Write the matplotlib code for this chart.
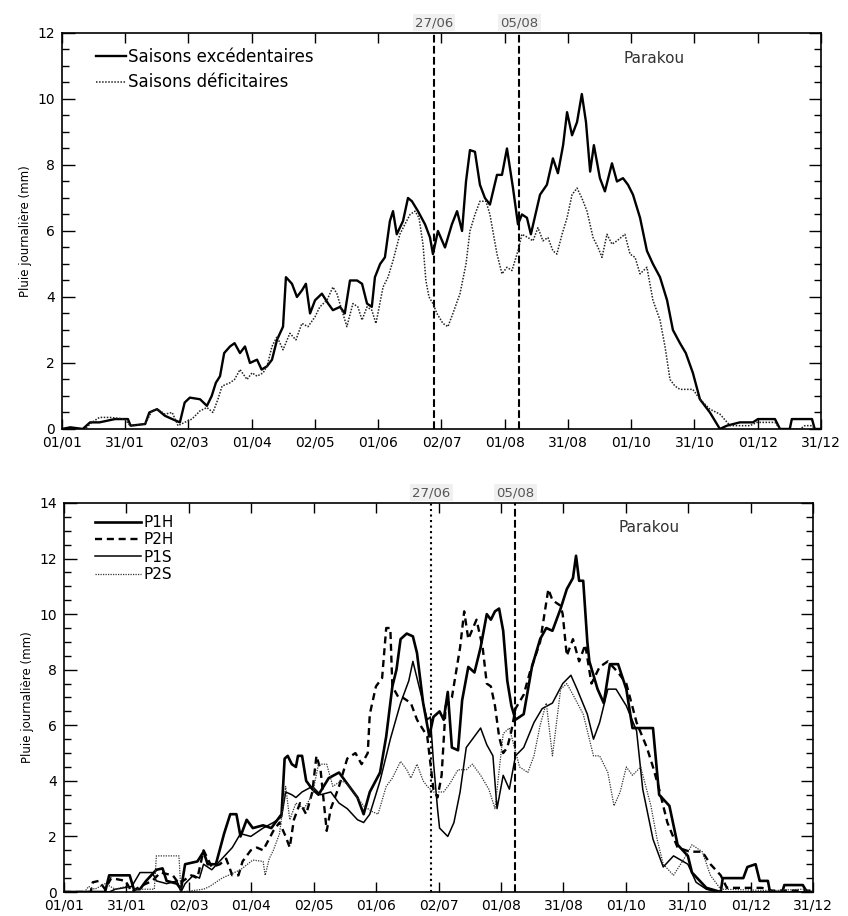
import numpy as np
import matplotlib
matplotlib.use("Agg")
import matplotlib.pyplot as plt
from matplotlib.ticker import MultipleLocator

# ── Data (day of year from 01/01) ────────────────────────────────────────────

MONTH_LABELS = ["01/01", "31/01", "02/03", "01/04", "02/05", "01/06", "02/07",
                "01/08", "31/08", "01/10", "31/10", "01/12", "31/12"]
MARK_LABELS = ["27/06", "05/08"]
MARK_DAYS = [179, 220]

# top panel: wet seasons (excédentaires) / dry seasons (déficitaires)
EXC_DAY = [0, 4, 10, 13.5, 18, 25.5, 31.7, 33, 40, 42, 45.7, 49.5, 53, 56.7, 59, 61.5, 66.4, 69.7, 72, 74,
           76, 78, 80.8, 83, 85.6, 88, 90.4, 93.8, 96, 98.6, 101, 103.4, 106.3, 107.7, 110.6, 113, 115.4,
           117.3, 119.3, 121.7, 125, 128, 130.3, 133.7, 136, 138.5, 141.9, 144.3, 146.7, 149, 150.5, 153,
           155.3, 157.7, 159.2, 161, 164, 166.4, 168.3, 171.2, 174.6, 177, 178.4, 180.8, 184.2, 187.5, 190,
           192.4, 194.3, 196.2, 198.6, 201, 203.4, 205.8, 209.2, 211.6, 214, 216.9, 219.3, 221.2, 223.6,
           225.5, 229.9, 233.2, 236.1, 238.5, 241, 242.9, 245.3, 247.7, 250, 252, 254, 255.8, 258.7, 261.1,
           264.5, 266.9, 269.8, 272.2, 274.6, 278, 281.3, 284.2, 287.6, 291, 293.8, 297.2, 300, 303.4, 306.8,
           311.6, 316.4, 319.8, 326, 332.3, 334.7, 342.9, 345.3, 350, 351, 360.7, 362, 365]
EXC_VAL = [0, 0.05, 0, 0.2, 0.2, 0.3, 0.3, 0.1, 0.15, 0.5, 0.6, 0.4, 0.3, 0.2, 0.8, 0.95, 0.9, 0.7, 1.0, 1.4,
           1.6, 2.3, 2.5, 2.6, 2.3, 2.5, 2.0, 2.1, 1.8, 1.9, 2.1, 2.7, 3.1, 4.6, 4.4, 4.0, 4.2,
           4.4, 3.5, 3.9, 4.1, 3.8, 3.6, 3.7, 3.5, 4.5, 4.5, 4.4, 3.8, 3.7, 4.6, 5.0,
           5.2, 6.3, 6.6, 5.9, 6.3, 7.0, 6.9, 6.6, 6.2, 5.8, 5.3, 6.0, 5.5, 6.2, 6.6,
           6.0, 7.5, 8.45, 8.4, 7.4, 7.0, 6.8, 7.7, 7.7, 8.5, 7.3, 6.2, 6.5, 6.4,
           5.9, 7.1, 7.4, 8.2, 7.75, 8.6, 9.6, 8.9, 9.3, 10.15, 9.3, 7.8, 8.6, 7.6, 7.2,
           8.05, 7.5, 7.6, 7.4, 7.1, 6.4, 5.4, 5.0, 4.6, 3.9, 3.0, 2.6, 2.3, 1.7, 0.9,
           0.5, 0.0, 0.1, 0.2, 0.2, 0.3, 0.3, 0.0, 0.0, 0.3, 0.3, 0.0, 0.0]

DEF_DAY = [0, 11, 14.4, 18, 23, 30.3, 32.7, 40, 43.3, 46, 49.5, 53, 55.8, 59, 62.5, 66.4, 69.7, 72.6, 75, 77,
           80.8, 83, 85.6, 89, 91.4, 93.8, 96.7, 98.6, 101, 103.4, 106.3, 109.6, 112.5, 115.4, 118.3, 121.7,
           124, 127.4, 130.3, 132.2, 134.6, 137, 139.9, 142.3, 144.3, 146.7, 149, 151, 154.4, 156.8, 159.2,
           162.5, 164.9, 167.4, 169.8, 171.7, 173.6, 175, 176.5, 178.4, 180.3, 183.2, 185.6, 188, 191.4,
           194.3, 196.2, 198.6, 201, 203.9, 205.8, 209.2, 211.6, 214, 216.4, 219.3, 221.2, 224.1, 226.5,
           228.9, 231.3, 233.7, 236.1, 238, 240.5, 242.9, 245.3, 247.7, 250, 252.5, 255.4, 257.8, 259.7,
           262.1, 264.5, 266.9, 270.7, 273.2, 275.6, 278, 281.3, 284.2, 287.6, 290, 292.4, 294.8, 297.2,
           303.4, 306.8, 311.6, 316.4, 321.3, 330.9, 334.2, 342.9, 345.3, 355, 357.3, 360.7, 362, 365]
DEF_VAL = [0, 0, 0.2, 0.35, 0.35, 0.3, 0.1, 0.15, 0.55, 0.6, 0.45, 0.5, 0.1, 0.2, 0.3, 0.55, 0.65, 0.5, 0.9, 1.3,
           1.4, 1.5, 1.8, 1.5, 1.7, 1.6, 1.7, 1.9, 2.5, 2.8, 2.4, 2.9, 2.7, 3.2, 3.1, 3.4,
           3.7, 3.9, 4.3, 4.1, 3.6, 3.1, 3.8, 3.7, 3.3, 3.7, 3.6, 3.2, 4.3, 4.6, 5.1,
           5.9, 6.2, 6.5, 6.6, 6.4, 5.6, 4.5, 4.0, 3.8, 3.5, 3.2, 3.1, 3.5, 4.1,
           5.0, 6.0, 6.5, 6.9, 6.9, 6.5, 5.3, 4.7, 4.9, 4.8, 5.4, 5.9, 5.8, 5.7,
           6.1, 5.7, 5.8, 5.4, 5.3, 5.9, 6.4, 7.1, 7.3, 7.0, 6.6, 5.8, 5.5, 5.2,
           5.9, 5.6, 5.7, 5.9, 5.3, 5.2, 4.7, 4.9, 3.9, 3.3, 2.5, 1.5, 1.3, 1.2,
           1.2, 0.9, 0.6, 0.45, 0.1, 0.1, 0.2, 0.2, 0.0, 0.0, 0.1, 0.1, 0.0, 0.0]

# bottom panel: P1H, P2H, P1S, P2S
P1H_DAY = [0, 20, 22, 32, 34, 37, 40, 45, 48, 50, 55, 57, 59, 65, 68, 70, 74, 78, 81, 84, 86, 89, 92, 97,
           101, 104, 106, 107.5, 109, 111, 113, 114, 116, 118, 121, 124, 129, 134, 138, 143, 146, 149, 154,
           157, 160, 162, 164, 167, 170, 172, 175, 178, 180, 183, 185, 187, 189, 192, 194, 197, 200, 203,
           206, 208, 210, 212, 214, 216, 218, 220, 224, 228, 232, 235, 238, 242, 245, 248, 249.5, 251, 253,
           255, 256, 260, 263, 266, 270, 274, 277, 282, 287, 290, 295, 299, 304, 306, 313, 320, 321, 331,
           333, 337, 339, 343, 344, 350, 351, 360, 362, 365]
P1H_VAL = [0, 0, 0.6, 0.6, 0.1, 0.1, 0.4, 0.8, 0.85, 0.4, 0.3, 0.1, 1.0, 1.1, 1.45, 1.0, 1.0, 2.1, 2.8, 2.8, 2.0, 2.6, 2.3, 2.4,
           2.3, 2.6, 2.8, 4.8, 4.9, 4.6, 4.5, 4.9, 4.9, 4.0, 3.7, 3.5, 4.1, 4.3, 3.9, 3.4, 2.8, 3.6, 4.3,
           5.6, 7.4, 8.0, 9.1, 9.3, 9.2, 8.6, 6.8, 5.6, 6.3, 6.5, 6.2, 7.2, 5.2, 5.1, 6.9, 8.1, 7.9, 8.8,
           10.0, 9.8, 10.1, 10.2, 9.4, 7.6, 6.7, 6.2, 6.4, 8.1, 9.1, 9.5, 9.4, 10.2, 10.9, 11.3, 12.1, 11.2, 11.2,
           9.0, 8.3, 7.3, 6.8, 8.2, 8.2, 7.3, 5.9, 5.9, 5.9, 3.5, 3.1, 1.7, 1.3, 0.7, 0.15, 0.0, 0.5, 0.5,
           0.9, 1.0, 0.4, 0.4, 0.0, 0.0, 0.25, 0.25, 0.0, 0.0]

P2H_DAY = [0, 13, 14, 17, 20, 23, 30, 33, 37, 43, 47, 53, 56, 62, 65, 68, 72, 76, 79, 82, 85, 87, 91, 94, 97,
           102, 105, 108, 110, 112, 115, 118, 121, 123, 125, 128, 130, 134, 138, 142, 145, 148, 149, 152,
           155, 157, 159, 160, 163, 165, 169, 172, 177, 180, 182, 184, 186, 189, 193, 195, 197, 201, 204,
           206, 208, 210, 212, 214, 216, 218, 220, 224, 227, 232, 236, 238, 242, 243, 245, 248, 251, 254,
           257, 261, 265, 270, 274, 279, 284, 287, 290, 294, 299, 305, 311, 315, 320, 323, 340, 345, 365]
P2H_VAL = [0, 0, 0.35, 0.4, 0.1, 0.5, 0.4, 0.0, 0.2, 0.4, 0.7, 0.6, 0.3, 0.6, 0.5, 1.5, 0.9, 1.0, 1.2, 0.6, 0.6, 1.1, 1.5, 1.6, 1.5,
           2.2, 2.5, 2.0, 1.6, 2.6, 3.2, 2.8, 3.6, 4.9, 4.4, 2.2, 3.0, 3.8, 4.8, 5.0, 4.6, 5.0, 6.4, 7.4,
           7.7, 9.5, 9.5, 7.4, 7.0, 7.0, 6.8, 6.2, 5.6, 3.7, 3.4, 4.2, 6.7, 7.0, 8.8, 10.1, 9.1, 9.8, 8.8,
           7.5, 7.4, 6.7, 5.6, 5.0, 5.2, 5.8, 6.6, 7.1, 7.9, 9.0, 10.9, 10.5, 10.3, 10.0, 8.5, 9.1, 8.3, 8.9,
           7.5, 8.1, 8.3, 7.9, 7.5, 6.1, 5.2, 4.5, 3.7, 2.5, 1.6, 1.45, 1.45, 1.0, 0.6, 0.15, 0.15, 0.05, 0.05]

P1S_DAY = [0, 22, 25, 33, 37, 43, 45, 50, 55, 57, 59, 63, 66, 68, 72, 77, 82, 86, 91, 97, 102, 106, 108, 111,
           113, 116, 121, 125, 130, 134, 138, 143, 146, 149, 154, 159, 164, 168, 170, 173, 177, 178.5, 180,
           182, 183, 187, 190, 193, 196, 199, 203, 206, 209, 211, 214, 217, 220, 224, 229, 233, 238, 243,
           247, 250, 255, 258, 261, 265, 269, 274, 279, 282, 287, 292, 297, 304, 308, 313, 318, 365]
P1S_VAL = [0, 0, 0.1, 0.2, 0.7, 0.7, 0.4, 0.3, 0.4, 0.0, 0.3, 0.6, 0.5, 1.0, 0.8, 1.2, 1.6, 2.1, 2.0, 2.3, 2.5, 2.7, 3.6, 3.5,
           3.4, 3.6, 3.8, 3.5, 3.6, 3.2, 3.0, 2.6, 2.5, 2.8, 4.0, 5.5, 6.8, 7.6, 8.3, 7.4, 6.2, 6.3, 4.7,
           3.0, 2.3, 2.0, 2.5, 3.6, 5.2, 5.5, 5.9, 5.3, 4.9, 3.0, 4.2, 3.7, 4.9, 5.2, 6.1, 6.6, 6.8, 7.5,
           7.8, 7.3, 6.4, 5.5, 6.1, 7.3, 7.3, 6.7, 5.8, 3.7, 1.9, 0.9, 1.3, 1.0, 0.35, 0.1, 0.0, 0.0]

P2S_DAY = [0, 10, 12, 15, 20, 25, 30, 35, 44, 45, 56, 57, 68, 71, 77, 86, 92, 97, 98, 100, 102, 105, 108, 110,
           113, 117, 121, 124, 128, 131, 135, 138, 143, 146, 150, 153, 157, 160, 164, 167, 169, 172, 175,
           177, 180, 185, 188, 192, 196, 199, 203, 207, 210, 214, 217, 222, 226, 229, 232, 235, 238, 242,
           245, 248, 253, 258, 261, 265, 268, 271, 274, 277, 281, 286, 289, 292, 297, 303, 306, 311, 315,
           320, 345, 360, 365]
P2S_VAL = [0, 0, 0.2, 0.1, 0.3, 0.1, 0.2, 0.1, 0.1, 1.3, 1.3, 0.0, 0.1, 0.2, 0.5, 0.8, 1.15, 1.1, 0.6, 1.2, 1.5, 2.1, 3.8, 2.6,
           3.2, 3.0, 3.5, 4.6, 4.6, 3.8, 4.0, 3.9, 3.4, 3.1, 2.9, 2.8, 3.8, 4.1, 4.7, 4.4, 4.1, 4.6, 4.0,
           3.8, 3.6, 3.6, 3.9, 4.4, 4.4, 4.6, 4.2, 3.7, 3.0, 5.7, 5.9, 4.5, 4.3, 4.9, 6.0, 6.8, 4.9, 7.3,
           7.5, 7.1, 6.4, 4.9, 4.9, 4.3, 3.1, 3.6, 4.5, 4.2, 4.5, 3.1, 1.9, 1.0, 0.6, 1.3, 1.7, 1.45, 0.6,
           0.1, 0.05, 0.1, 0.0]

# ── Helpers ───────────────────────────────────────────────────────────────────

def style_axes(ax, ymax):
    ax.set_xlim(0, 365)
    ax.set_ylim(0, ymax)
    ax.set_xticks(np.arange(len(MONTH_LABELS)) * 365 / 12)
    ax.set_xticklabels(MONTH_LABELS)
    ax.yaxis.set_major_locator(MultipleLocator(2))
    ax.yaxis.set_minor_locator(MultipleLocator(0.5))
    ax.tick_params(axis="both", which="both", direction="in", top=True, right=True,
                   width=1.0, labelsize=10)
    ax.tick_params(axis="x", which="major", length=7, pad=5)
    ax.tick_params(axis="y", which="major", length=9, pad=5)
    ax.tick_params(axis="y", which="minor", length=5)
    ax.set_ylabel("Pluie journalière (mm)", fontsize=8.5, labelpad=4)
    for sp in ax.spines.values():
        sp.set_linewidth(1.2)
    ax.text(0.74, 0.955, "Parakou", transform=ax.transAxes, fontsize=11,
            color="#333333", va="top", ha="left")


def mark_dates(ax, styles):
    for d, lab, ls in zip(MARK_DAYS, MARK_LABELS, styles):
        ax.axvline(d, color="black", lw=1.5, linestyle=ls, zorder=1)
        ax.text(d, 1.01, lab, transform=ax.get_xaxis_transform(), ha="center", va="bottom",
                fontsize=9.5, color="#555555",
                bbox=dict(facecolor="#f0f0f0", edgecolor="none", pad=1.5))


# ── Plot ──────────────────────────────────────────────────────────────────────

fig = plt.figure(figsize=(8.48, 9.16), dpi=100)
ax1 = fig.add_axes([0.0731, 0.5317, 0.895, 0.4323])
ax2 = fig.add_axes([0.0755, 0.0262, 0.8833, 0.4247])

# top panel
ax1.plot(EXC_DAY, EXC_VAL, color="black", lw=1.7, label="Saisons excédentaires")
ax1.plot(DEF_DAY, DEF_VAL, color="#222222", lw=1.1, linestyle=(0, (1, 1)),
         label="Saisons déficitaires")
mark_dates(ax1, ["--", "--"])
style_axes(ax1, 12)
ax1.legend(loc="upper left", frameon=False, fontsize=12, handlelength=1.8,
           handletextpad=0.15, labelspacing=0.45, borderaxespad=0.5,
           bbox_to_anchor=(0.025, 1.0))

# bottom panel
ax2.plot(P1H_DAY, P1H_VAL, color="black", lw=1.9, label="P1H")
ax2.plot(P2H_DAY, P2H_VAL, color="black", lw=1.7, linestyle=(0, (3, 2)), label="P2H")
ax2.plot(P1S_DAY, P1S_VAL, color="black", lw=1.1, label="P1S")
ax2.plot(P2S_DAY, P2S_VAL, color="#333333", lw=0.9, linestyle=(0, (1, 1)), label="P2S")
mark_dates(ax2, [":", "--"])
style_axes(ax2, 14)
ax2.legend(loc="upper left", frameon=False, fontsize=11, handlelength=3.0,
           handletextpad=0.2, labelspacing=0.15, borderaxespad=0.4,
           bbox_to_anchor=(0.025, 1.0))

fig.savefig("out.png", dpi=100)
